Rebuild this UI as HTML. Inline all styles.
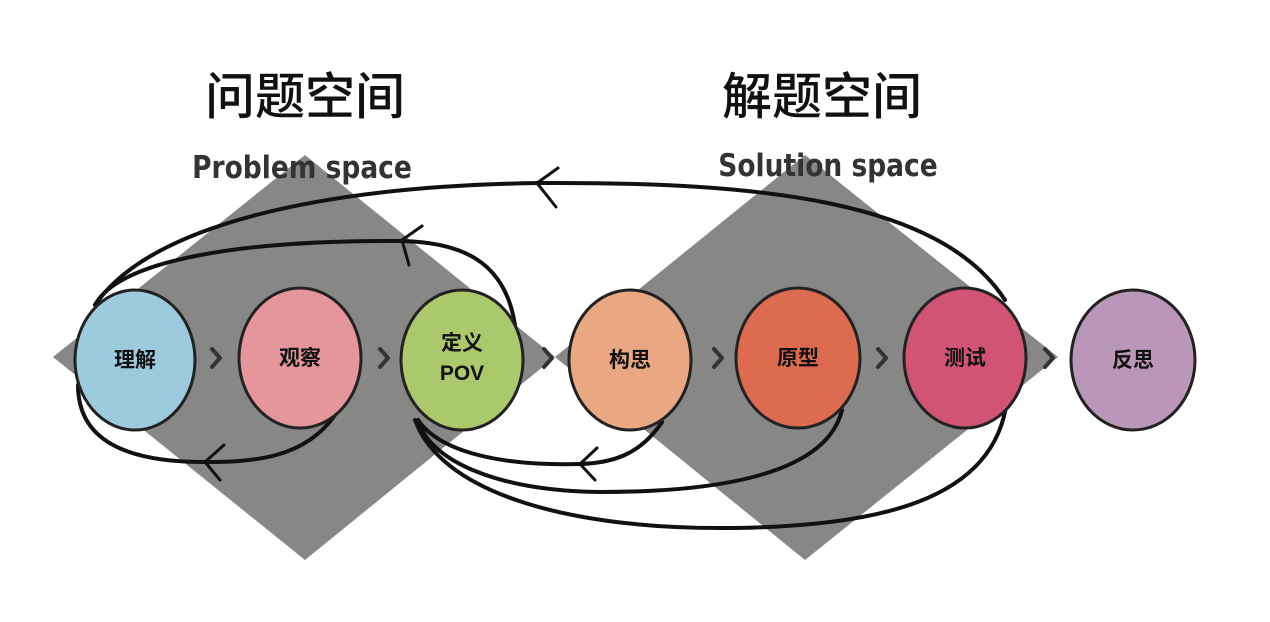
<!DOCTYPE html>
<html><head><meta charset="utf-8"><style>
body{margin:0;background:#fff}
svg{display:block}
</style></head><body>
<svg width="1270" height="622" viewBox="0 0 1270 622" xmlns="http://www.w3.org/2000/svg">
<rect width="1270" height="622" fill="#fff"/>
<text x="305" y="114" font-family="Noto Sans CJK SC, sans-serif" font-weight="500" font-size="50" text-anchor="middle" fill="#111">问题空间</text>
<text x="822" y="114" font-family="Noto Sans CJK SC, sans-serif" font-weight="500" font-size="50" text-anchor="middle" fill="#111">解题空间</text>
<polygon points="305,155 555,357 305,560 53,357" fill="#878886"/>
<polygon points="805,155 1058,357 805,560 555,357" fill="#878886"/>
<text x="302" y="178" font-family="DejaVu Sans Condensed, DejaVu Sans, sans-serif" font-weight="bold" font-size="31" text-anchor="middle" fill="#333" transform="translate(302,0) scale(0.95,1) translate(-302,0)">Problem space</text>
<text x="828" y="176" font-family="DejaVu Sans Condensed, DejaVu Sans, sans-serif" font-weight="bold" font-size="31" text-anchor="middle" fill="#333" transform="translate(828,0) scale(0.95,1) translate(-828,0)">Solution space</text>
<g fill="none" stroke="#111" stroke-width="4" stroke-linecap="round">
<path d="M1005,300 C 940,200 760,182 540,183 C 320,186 150,225 95,305"/>
<path d="M515,325 C 505,260 460,242 400,241 C 250,240 120,258 95,305"/>
<path d="M335,415 C 305,458 255,462 205,462 C 125,462 78,440 78,385"/>
<path d="M662,422 C 640,455 612,463 580,464 C 500,466 440,452 418,420"/>
<path d="M842,410 C 825,480 700,492 600,492 C 500,491 430,462 418,420"/>
<path d="M1007,400 C 995,500 880,528 720,528 C 560,528 440,490 415,420"/>
<path d="M558,168 L537,183 L556,207" stroke-width="3"/>
<path d="M422,226 L402,240 L409,265" stroke-width="3"/>
<path d="M224,445 L205,462 L220,480" stroke-width="3"/>
<path d="M597,448 L580,464 L595,480" stroke-width="3"/>
</g>
<g stroke="#222" stroke-width="3">
<ellipse cx="135" cy="360" rx="60" ry="70" fill="#9ecade"/>
<ellipse cx="300" cy="358" rx="61" ry="70" fill="#e4969a"/>
<ellipse cx="462" cy="360" rx="61" ry="70" fill="#abc86d"/>
<ellipse cx="630" cy="360" rx="61" ry="70" fill="#eaa882"/>
<ellipse cx="798" cy="358" rx="62" ry="70" fill="#dd6b50"/>
<ellipse cx="965" cy="358" rx="61" ry="70" fill="#d15474"/>
<ellipse cx="1133" cy="360" rx="62" ry="70" fill="#ba96b8"/>
</g>
<g fill="none" stroke="#333" stroke-width="4" stroke-linecap="round" stroke-linejoin="round">
<path d="M212,349 L220,358 L212,367"/><path d="M380,349 L388,358 L380,367"/><path d="M544,349 L552,358 L544,367"/>
<path d="M714,349 L722,358 L714,367"/><path d="M878,349 L886,358 L878,367"/><path d="M1045,349 L1053,358 L1045,367"/>
</g>
<g font-family="Liberation Sans, Noto Sans CJK SC, sans-serif" font-weight="bold" font-size="21" text-anchor="middle" fill="#111">
<text x="135" y="367">理解</text>
<text x="300" y="365">观察</text>
<text x="462" y="350">定义</text>
<text x="462" y="380">POV</text>
<text x="630" y="367">构思</text>
<text x="798" y="365">原型</text>
<text x="965" y="365">测试</text>
<text x="1133" y="367">反思</text>
</g>
</svg>
</body></html>
